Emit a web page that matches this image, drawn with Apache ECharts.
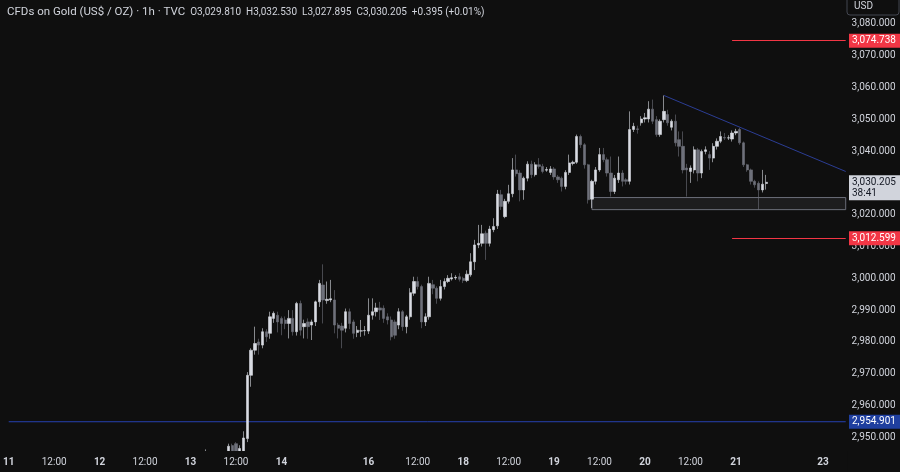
<!DOCTYPE html>
<html><head><meta charset="utf-8">
<script src="https://cdn.jsdelivr.net/npm/echarts@6/dist/echarts.min.js"></script>
<style>html,body{margin:0;padding:0;background:#0f0f0f;}#c{width:900px;height:472px;}</style>
</head><body><div id="c"></div>
<script>
// ---------- data ----------
const slotCount = 222; // hourly slots on the time axis (incl. empty space on the right)
const tickIndex = [0,12,24,36,48,60,72,95,108,120,132,144,156,168,180,192,215];
const tickText  = ['11','12:00','12','12:00','13','12:00','14','16','12:00','18','12:00','19','12:00','20','12:00','21','23'];
const priceTicks = [2950,2960,2970,2980,2990,3000,3010,3020,3030,3040,3050,3060,3070,3080];
const priceMin = 2945.7;
const priceMax = 3087.52;
// [open, close, low, high]
const candles = [
[2889.5,2893.2,2887.8,2895.1],[2893.2,2891.0,2889.4,2894.6],[2891.0,2896.8,2890.2,2898.3],[2896.8,2899.5,2895.1,2901.2],
[2899.5,2897.3,2895.8,2900.6],[2897.3,2902.4,2896.5,2903.9],[2902.4,2905.1,2900.8,2906.7],[2905.1,2903.0,2901.2,2906.3],
[2903.0,2907.6,2902.1,2909.0],[2907.6,2911.8,2906.4,2913.2],[2911.8,2909.5,2907.7,2913.0],[2909.5,2913.4,2908.3,2915.6],
[2913.4,2916.9,2911.5,2918.2],[2916.9,2914.2,2912.6,2918.0],[2914.2,2918.7,2913.1,2920.3],[2918.7,2915.3,2913.8,2921.4],
[2915.3,2912.0,2909.6,2917.1],[2912.0,2916.5,2910.8,2918.0],[2916.5,2919.8,2915.0,2921.7],[2919.8,2917.4,2915.9,2921.2],
[2917.4,2914.6,2913.0,2918.9],[2914.6,2916.1,2913.4,2917.8],[2916.1,2915.2,2914.0,2917.3],[2915.2,2917.9,2914.6,2918.8],
[2917.9,2919.4,2916.8,2920.7],[2919.4,2917.1,2915.9,2920.2],[2917.1,2912.8,2911.0,2918.4],[2912.8,2908.5,2906.2,2913.9],
[2908.5,2911.9,2907.3,2913.4],[2911.9,2915.6,2910.7,2917.0],[2915.6,2913.0,2911.4,2916.8],[2913.0,2917.7,2912.2,2919.1],
[2917.7,2921.3,2916.5,2922.8],[2921.3,2924.0,2919.9,2925.6],[2924.0,2922.2,2920.5,2925.3],[2922.2,2926.8,2921.4,2928.1],
[2926.8,2930.5,2925.3,2932.4],[2930.5,2927.4,2925.8,2931.9],[2927.4,2931.6,2926.5,2933.0],[2931.6,2935.2,2930.4,2936.8],
[2935.2,2932.9,2931.1,2936.4],[2932.9,2934.8,2931.7,2936.2],[2934.8,2937.1,2933.5,2938.6],[2937.1,2935.0,2933.8,2938.2],
[2935.0,2936.3,2934.1,2937.5],[2936.3,2934.6,2933.2,2937.4],[2934.6,2935.8,2933.9,2936.9],[2935.8,2934.2,2933.0,2936.7],
[2934.2,2936.5,2933.4,2938.0],[2936.5,2938.9,2935.6,2940.2],[2938.9,2937.2,2936.0,2940.5],[2937.2,2939.6,2936.4,2941.3],
[2939.6,2941.8,2938.7,2946.2],[2941.8,2940.1,2938.9,2943.0],[2940.1,2938.4,2936.8,2941.9],[2938.4,2940.7,2937.5,2942.6],
[2940.7,2939.3,2938.0,2942.2],[2939.3,2942.5,2938.6,2943.6],
[2942.5,2947.2,2941.5,2948.0],[2947.4,2944.5,2943.0,2948.0],[2948.0,2945.0,2943.0,2948.5],[2945.0,2946.5,2944.0,2947.5],
[2945.5,2949.8,2944.0,2951.9],
[2949.6,2969.5,2948.5,2970.5],[2969.5,2977.4,2965.9,2978.0],[2977.4,2979.5,2976.0,2984.8],[2980.0,2979.0,2976.0,2981.0],
[2979.0,2983.2,2978.0,2984.3],[2983.2,2981.6,2980.0,2984.0],[2982.7,2987.9,2981.0,2989.5],[2987.4,2989.0,2986.0,2989.6],
[2988.4,2986.3,2983.0,2989.5],[2987.4,2985.8,2982.1,2988.0],[2986.9,2985.8,2984.0,2988.0],[2985.8,2987.4,2981.1,2990.0],
[2987.4,2983.2,2982.0,2990.0],[2983.2,2992.1,2982.0,2992.6],[2992.1,2983.7,2982.0,2993.0],[2984.8,2985.8,2981.1,2987.0],
[2986.3,2984.8,2981.0,2987.4],[2985.3,2986.3,2980.6,2987.0],[2986.3,2992.6,2985.0,2993.0],[2992.6,2998.4,2991.0,2999.5],
[2997.9,2993.2,2985.8,3004.4],[2993.0,2993.4,2992.0,2999.0],[2993.2,2993.6,2992.5,2999.5],[2993.2,2985.3,2982.7,2996.3],
[2985.3,2984.3,2981.1,2986.0],[2985.0,2983.7,2978.0,2986.0],[2984.3,2989.5,2983.0,2990.5],[2989.5,2985.8,2984.0,2990.5],
[2986.3,2982.7,2981.0,2987.0],[2983.0,2983.7,2981.5,2985.0],[2983.4,2983.5,2981.6,2986.9],[2983.5,2983.6,2982.0,2985.0],
[2983.4,2988.4,2982.5,2993.7],[2988.4,2989.5,2987.0,2993.7],[2989.5,2990.7,2988.0,2992.3],[2990.7,2990.0,2986.9,2992.6],
[2990.6,2987.4,2986.0,2991.5],[2987.9,2986.9,2985.5,2989.0],[2986.9,2981.6,2980.5,2988.0],[2986.3,2982.1,2981.0,2987.0],
[2985.3,2989.5,2984.0,2990.6],[2989.5,2984.8,2983.5,2990.0],[2984.8,2987.9,2982.7,2988.5],[2987.9,2995.5,2987.0,2996.9],
[2995.3,2999.0,2994.5,3000.5],[2999.0,2997.4,2996.5,3000.5],[2997.4,2986.3,2984.3,2998.0],[2986.3,2987.9,2985.0,2989.0],
[2987.9,2998.4,2987.0,3000.5],[2998.0,2996.9,2995.0,2999.5],[2996.9,2993.7,2992.0,2997.5],[2993.7,2997.4,2993.0,2999.5],
[2997.4,2999.0,2996.5,3000.0],[2999.0,3000.0,2998.5,3001.0],[2999.8,3000.2,2999.3,3001.6],[3000.1,3000.3,2999.5,3001.0],
[3000.5,2999.7,2999.0,3001.6],[3000.0,2999.3,2998.5,3000.5],[2999.3,3001.3,2998.8,3002.5],[3001.1,3005.2,3000.5,3007.9],
[3005.2,3010.5,3002.6,3012.1],[3010.5,3011.0,3009.5,3016.8],[3011.0,3014.0,3010.0,3016.8],[3014.2,3011.0,3005.8,3015.0],
[3011.0,3015.5,3010.0,3016.5],[3015.3,3016.3,3014.5,3018.9],[3016.5,3026.5,3015.5,3027.8],[3026.3,3022.6,3021.5,3027.8],
[3019.4,3024.2,3018.9,3025.0],[3024.2,3026.6,3023.5,3029.4],[3026.6,3034.1,3025.5,3037.8],[3034.1,3032.9,3032.0,3038.9],
[3033.1,3027.8,3024.2,3034.0],[3027.8,3031.5,3024.7,3032.0],[3031.5,3035.9,3030.5,3036.8],[3035.9,3032.6,3031.5,3037.0],
[3032.6,3035.7,3032.0,3036.5],[3035.7,3035.2,3034.5,3037.8],[3035.2,3033.6,3033.0,3036.0],[3034.0,3034.2,3033.5,3035.0],
[3033.3,3034.4,3032.5,3035.3],[3034.4,3031.9,3031.0,3035.0],[3031.9,3031.0,3030.0,3032.5],[3031.5,3028.9,3027.3,3032.0],
[3028.9,3033.3,3028.0,3034.0],[3033.3,3036.3,3032.5,3038.9],[3036.1,3036.5,3035.5,3037.0],[3036.5,3044.6,3036.0,3045.2],
[3044.6,3042.0,3041.0,3045.2],[3042.0,3035.7,3034.5,3042.5],[3035.7,3024.7,3023.5,3036.0],[3024.9,3030.5,3022.1,3031.0],
[3030.5,3034.1,3029.5,3035.0],[3034.1,3038.9,3033.5,3041.0],[3038.9,3037.3,3036.5,3041.0],[3037.3,3033.1,3032.0,3038.0],
[3033.1,3027.3,3025.7,3038.3],[3027.3,3031.5,3026.5,3032.5],[3031.0,3033.1,3030.0,3038.3],[3033.1,3030.5,3028.9,3034.0],
[3031.0,3030.5,3029.5,3031.5],[3030.5,3046.8,3029.5,3052.5],[3046.8,3047.8,3046.0,3048.9],[3047.0,3046.8,3045.5,3048.0],
[3048.9,3050.1,3048.0,3051.0],[3050.1,3050.5,3049.0,3052.0],[3050.1,3053.2,3049.0,3055.7],[3053.2,3049.4,3048.5,3056.2],
[3049.9,3045.2,3044.5,3051.0],[3045.2,3049.4,3044.5,3050.0],[3049.9,3052.5,3049.0,3057.5],[3051.5,3048.9,3048.0,3053.0],
[3047.5,3049.4,3046.5,3050.0],[3049.4,3042.6,3041.5,3051.5],[3043.6,3041.5,3038.3,3046.2],[3041.5,3034.1,3033.0,3046.2],
[3034.7,3034.1,3025.7,3036.0],[3033.6,3034.7,3030.0,3035.5],[3034.1,3040.4,3033.0,3041.5],[3040.4,3033.1,3030.5,3041.0],
[3033.1,3039.9,3031.5,3040.5],[3039.9,3040.4,3039.0,3041.5],[3038.9,3037.8,3034.1,3040.0],[3037.8,3041.5,3036.5,3042.5],
[3041.5,3043.1,3040.5,3044.0],[3043.1,3044.6,3042.5,3046.2],[3044.3,3044.1,3043.5,3045.7],[3044.1,3044.2,3043.5,3045.0],
[3043.8,3045.7,3043.0,3046.5],[3045.7,3046.2,3045.0,3047.0],[3046.8,3042.6,3042.0,3047.3],[3042.6,3035.7,3035.0,3043.0],
[3035.7,3034.1,3033.5,3036.0],[3034.1,3030.5,3029.5,3034.5],[3030.5,3029.4,3028.5,3031.0],[3029.9,3027.8,3021.5,3030.5],
[3027.8,3029.6,3027.0,3034.1],[3029.81,3030.205,3027.895,3032.53]
];
const levelHigh = 3074.738;
const levelLow = 3012.599;
const levelBase = 2954.901;
const lastPrice = 3030.205;
const barTimer = '38:41';
const levelStart = 191;
const trendLine = [[173, 3057.5], [221, 3033.6]];
const zoneBox = [[154, 3025.4], [221, 3021.6]];
const prevClose = 3029.81;

// ---------- helpers ----------
function fmt(n){
  const s = n.toFixed(3); const p = s.split('.');
  return p[0].replace(/\B(?=(\d{3})+(?!\d))/g, ',') + '.' + p[1];
}
const slots = [];
for (let i = 0; i < slotCount; i++) slots.push(String(i));

const last = candles[candles.length - 1];
const change = last[1] - prevClose;
const titleText = '{n|CFDs on Gold (US$ / OZ) · 1h · TVC}' +
  '{v|O' + fmt(last[0]) + '}{v|H' + fmt(last[3]) + '}{v|L' + fmt(last[2]) + '}{v|C' + fmt(last[1]) + '}' +
  '{v|+' + change.toFixed(3) + ' (+' + (change / prevClose * 100).toFixed(2) + '%)}';

const FONT = 'Roboto, "Liberation Sans", sans-serif';
const TXT = '#d1d4dc';
const BULL = '#d9dce3';
const BEAR = '#6e717b';
const BG = '#0f0f0f';
const NAVY = '#2540b0';

const chart = echarts.init(document.getElementById('c'), null, {renderer: 'canvas'});
chart.setOption({
  backgroundColor: BG,
  animation: false,
  title: {
    text: titleText, left: 2, top: 1,
    textStyle: {
      color: TXT, fontSize: 10, fontWeight: 'normal', fontFamily: FONT,
      rich: {
        n: {color: TXT, fontSize: 11.5, fontFamily: FONT},
        v: {color: TXT, fontSize: 10, fontFamily: FONT, padding: [0, 0, 0, 5]}
      }
    }
  },
  grid: {left: 2, right: 52.4, top: 0, bottom: 21},
  xAxis: {
    type: 'category', data: slots, boundaryGap: true, z: 20,
    axisLine: {show: false}, axisTick: {show: false}, splitLine: {show: false},
    axisLabel: {
      interval: function (i) { return tickIndex.indexOf(i) >= 0; },
      formatter: function (v) {
        const k = tickIndex.indexOf(Number(v)); if (k < 0) return '';
        const t = tickText[k];
        return t.indexOf(':') >= 0 ? '{t|' + t + '}' : '{d|' + t + '}';
      },
      margin: 6,
      rich: {
        t: {color: TXT, fontSize: 10, fontFamily: FONT},
        d: {color: TXT, fontSize: 10, fontFamily: FONT, fontWeight: 'bold'}
      }
    }
  },
  yAxis: {
    type: 'value', position: 'right', min: priceMin, max: priceMax, scale: true,
    axisLine: {show: false}, axisTick: {show: false}, splitLine: {show: false},
    axisLabel: {
      customValues: priceTicks, color: TXT, fontSize: 10, fontFamily: FONT, margin: 4,
      formatter: function (v) { return fmt(v); }
    }
  },
  series: [
    {
      type: 'candlestick', data: candles, barWidth: 2.8, clip: true, z: 3,
      itemStyle: {color: BULL, color0: BEAR, borderColor: BULL, borderColor0: BEAR, borderWidth: 0.6},
      markArea: {
        silent: true,
        itemStyle: {color: 'rgba(120,123,134,0.13)', borderColor: '#6b6e79', borderWidth: 1},
        data: [[{coord: zoneBox[0]}, {coord: zoneBox[1]}]]
      },
      markLine: {
        silent: true, symbol: ['none', 'none'], animation: false,
        label: {show: false},
        lineStyle: {type: 'solid', width: 1},
        data: [
          [{coord: [levelStart, levelHigh], lineStyle: {color: '#f23645', width: 1, type: 'solid'}}, {coord: [slotCount - 1, levelHigh]}],
          [{coord: [levelStart, levelLow], lineStyle: {color: '#f23645', width: 1, type: 'solid'}}, {coord: [slotCount - 1, levelLow]}]
        ]
      }
    },
    {
      type: 'line', data: trendLine, symbol: 'none', silent: true, z: 4,
      lineStyle: {color: '#2b3d94', width: 1}
    },
    {
      type: 'line', data: [[0, levelBase], [slotCount - 1, levelBase]], symbol: 'none', silent: true, z: 2,
      lineStyle: {color: NAVY, width: 1}
    }
  ]
});

// price-scale labels and bottom mask placed through the library scales
function yPix(v){ return chart.convertToPixel({yAxisIndex: 0}, v); }
function xPix(i){ return chart.convertToPixel({xAxisIndex: 0}, i); }
const boxes = [
  {v: levelHigh, lines: [fmt(levelHigh)], bg: '#f23645', fg: '#ffffff'},
  {v: levelLow, lines: [fmt(levelLow)], bg: '#f23645', fg: '#ffffff'},
  {v: levelBase, lines: [fmt(levelBase)], bg: '#1f3f9f', fg: '#ffffff'},
  {v: lastPrice, lines: [fmt(lastPrice), barTimer], bg: '#d1d4dc', fg: '#131722'}
];
const g = [];
const plotBottom = yPix(priceMin);
const plotRight = xPix(slotCount - 1) + 2;
g.push({type: 'rect', shape: {x: 0, y: plotBottom, width: plotRight, height: 472 - plotBottom}, style: {fill: BG}, z: 8, silent: true});
boxes.forEach(function (b) {
  const y = yPix(b.v);
  const h = b.lines.length === 1 ? 14 : 25;
  const top = y - 7;
  g.push({type: 'rect', shape: {x: 849, y: top, width: 51, height: h}, style: {fill: b.bg}, z: 10});
  b.lines.forEach(function (t, k) {
    g.push({type: 'text', x: 852, y: top + 7 + k * 11.5, z: 11,
      style: {text: t, fill: b.fg, font: '10px ' + FONT, verticalAlign: 'middle', align: 'left'}});
  });
});
g.push({type: 'rect', shape: {x: 847, y: -4, width: 52, height: 19, r: 3}, style: {fill: BG, stroke: '#434651', lineWidth: 1}, z: 10});
g.push({type: 'text', x: 854, y: 6, z: 11, style: {text: 'USD', fill: TXT, font: '10px ' + FONT, verticalAlign: 'middle'}});
chart.setOption({graphic: g});
</script>
</body></html>
